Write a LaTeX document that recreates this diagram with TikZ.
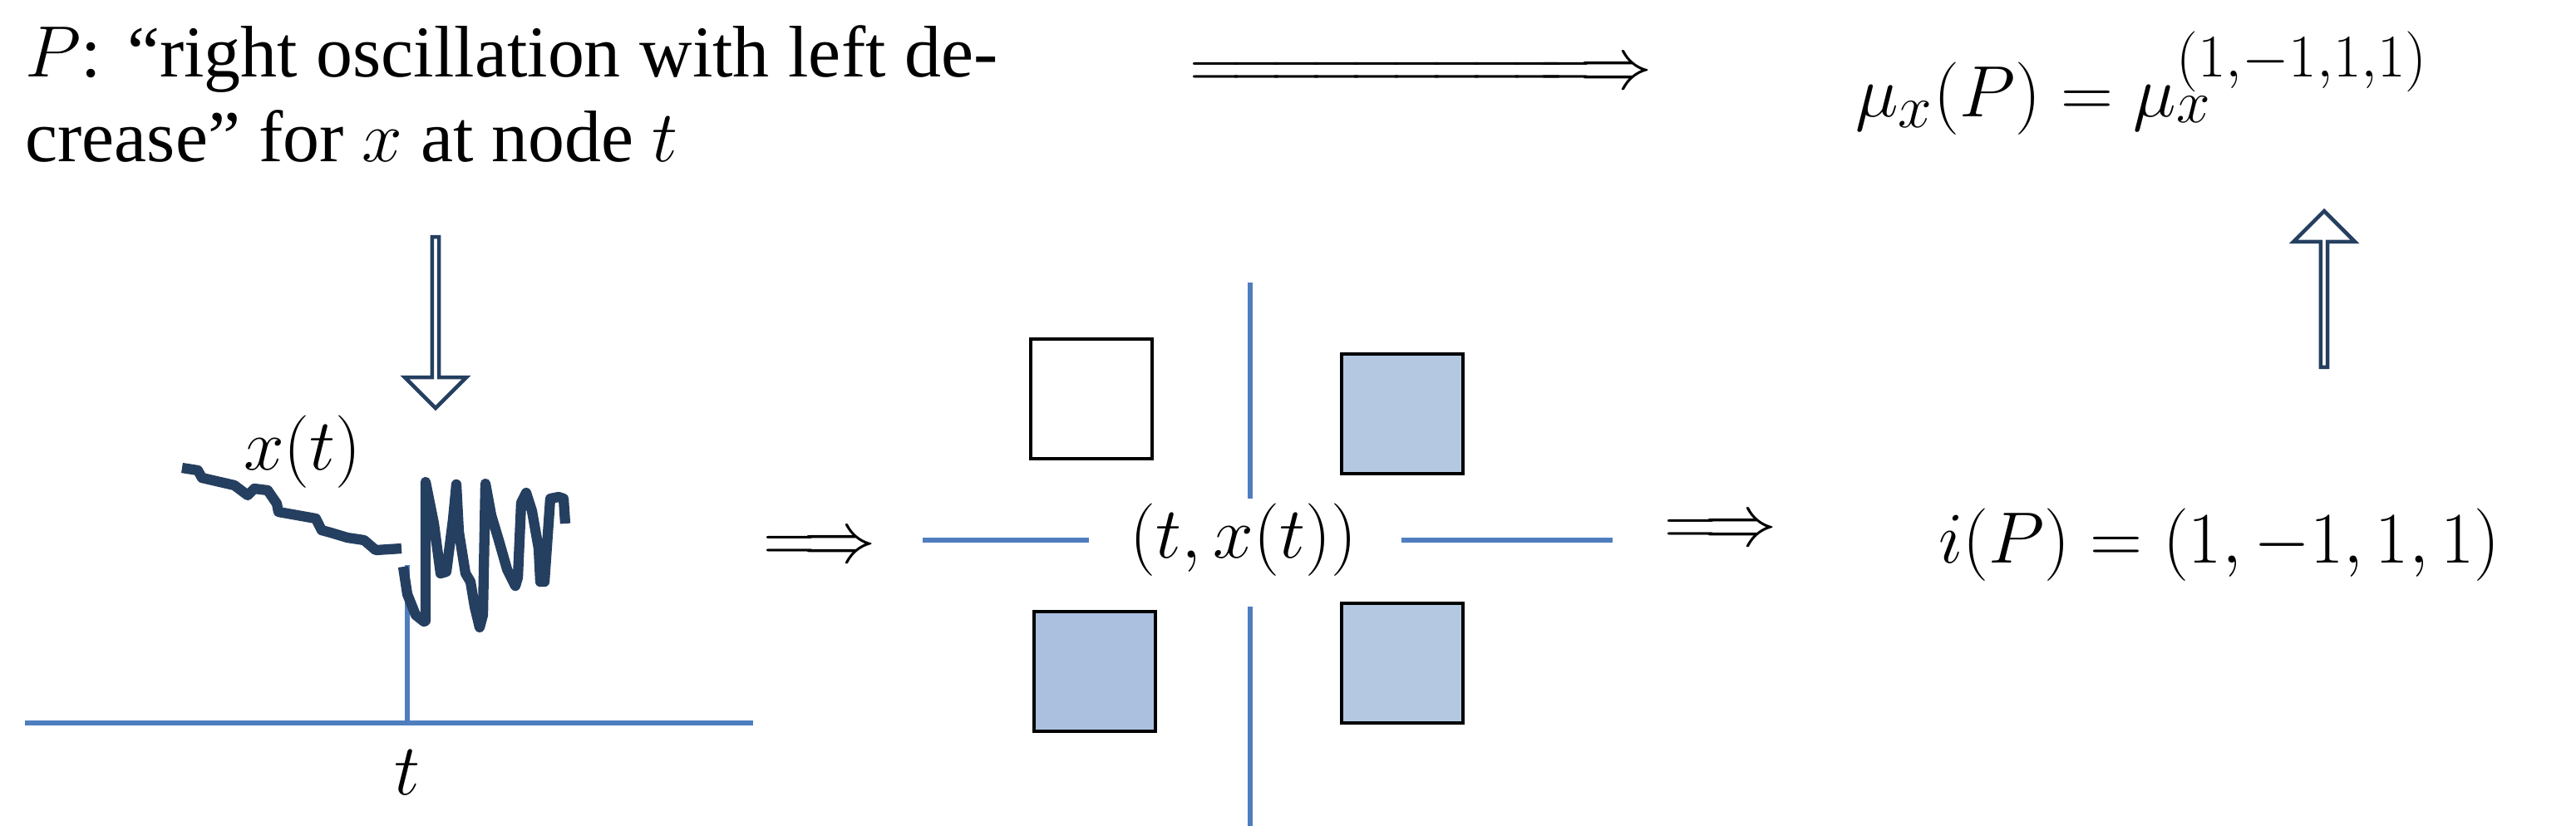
\documentclass[tikz,border=0pt]{standalone}
\usepackage{fontspec}
\setmainfont{Liberation Serif}
\usetikzlibrary{shapes.arrows}
\definecolor{ln}{HTML}{4F7EBF}
\definecolor{cv}{HTML}{253F60}
\definecolor{bA}{HTML}{B4C8E2}
\definecolor{bB}{HTML}{ABC0DF}
\tikzset{x=0.02cm,y=-0.02cm,
 axis/.style={draw=ln,line width=1.6pt},
 sq/.style={draw=black,line width=1pt},
 hollow/.style={single arrow,draw=cv,line width=1.3pt,fill=white,single arrow head extend=0.18cm,inner sep=0pt},
 big/.style={font=\fontsize{30}{36}\selectfont}}
\begin{document}
\begin{tikzpicture}
\useasboundingbox (0,0) rectangle (1549.5,496.5);
% text
\node[anchor=north west,text width=11.7cm,align=justify,font=\fontsize{25}{29}\selectfont,inner sep=0pt] (ptext) at (15,15)
 {$P$: ``right oscillation with left decrease'' for $x$ at node $t$};
\node[big] (dash) at (855,45) {$=\!=\!=\!=\!=\!=\!=\!=\!=\!\!\Longrightarrow$};
\node[big,anchor=west] (mu) at (1110,50) {$\mu_x(P)=\mu_x^{(1,-1,1,1)}$};
% hollow arrows
\node[hollow,shape border rotate=270,minimum height=2.06cm,minimum width=0.74cm] (da) at (262,193) {};
\node[hollow,shape border rotate=90,minimum height=1.88cm,minimum width=0.74cm] (ua) at (1398,175) {};
% axis
\draw[axis] (15,435) -- (453,435);
\coordinate (tb) at (245,435);
\coordinate (tt) at (245,340);
\draw[axis] (tb) -- (tt);
\node[big] (tl) at (245,465) {$t$};
\node[big] (xl) at (182,272) {$x(t)$};
% curve
\begin{scope}[scale=0.5]
\draw[cv,line width=3.5pt,line join=round]
 (219,563) -- (238,566) -- (243,575) -- (282,584) -- (298,596) -- (306,588) -- (322,590) -- (333,606) -- (335,616) -- (380,624) -- (387,638) -- (398,641) -- (418,647) -- (438,650) -- (452,662) -- (483,660);
\draw[cv,line width=3.5pt,line join=round]
 (485,682) -- (490,715) -- (500,740) -- (510,748) -- (512,747) -- (512,580) -- (522,630) -- (530,690) -- (537,688) -- (545,625) -- (549,583) -- (552,640) -- (560,690) -- (566,700) -- (571,730) -- (577,755) -- (581,740) -- (584,582) -- (591,620) -- (600,650) -- (610,685) -- (620,705) -- (623,695) -- (627,605) -- (633,593) -- (640,615) -- (648,660) -- (650,700) -- (655,700) -- (662,600) -- (672,598) -- (678,600) -- (680,630);
\end{scope}
% connectors
\node[big] (r1) at (493,330) {$\Longrightarrow$};
\node[big] (r2) at (1035,320) {$\Longrightarrow$};
% cross
\node[big] (c) at (748,325) {$(t,x(t))$};
\coordinate (vt) at (752,170); \coordinate (vb) at (752,510);
\coordinate (hl) at (555,325); \coordinate (hr) at (970,325);
\draw[axis] (vt) -- (752,300);
\draw[axis] (752,365) -- (vb);
\draw[axis] (hl) -- (655,325);
\draw[axis] (843,325) -- (hr);
\draw[sq,fill=white] (620,204) rectangle (693,276);
\draw[sq,fill=bA] (807,213) rectangle (880,285);
\draw[sq,fill=bB] (622,368) rectangle (695,440);
\draw[sq,fill=bA] (807,363) rectangle (880,435);
\node[big,anchor=west] (ip) at (1160,328) {$i(P)=(1,-1,1,1)$};
\end{tikzpicture}
\end{document}
